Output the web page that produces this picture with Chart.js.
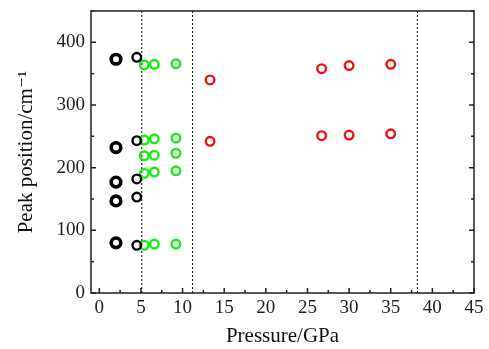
<!DOCTYPE html>
<html>
<head>
<meta charset="utf-8">
<script src="https://cdn.jsdelivr.net/npm/chart.js@4/dist/chart.umd.min.js"></script>
<style>
  html, body { margin: 0; padding: 0; background: #fff; }
  #wrap { width: 489px; height: 349px; }
</style>
</head>
<body>
<div id="wrap"><canvas id="peakChart"></canvas></div>
<script>
// pressure (GPa) and peak positions (cm^-1)
const blackBoldP = [2.0, 2.0, 2.0, 2.0, 2.0];
const blackBoldPos = [373, 232, 177, 147, 80];
const blackP = [4.5, 4.5, 4.5, 4.5, 4.5];
const blackPos = [376, 243, 182, 153, 76];
const greenP = [5.4, 5.4, 5.4, 5.4, 5.4, 6.6, 6.6, 6.6, 6.6, 6.6, 9.2, 9.2, 9.2, 9.2, 9.2];
const greenPos = [364, 244, 219, 191, 76, 365, 246, 220, 193, 78, 366, 247, 223, 195, 78];
const redP = [13.3, 13.3, 26.7, 26.7, 30.0, 30.0, 35.0, 35.0];
const redPos = [340, 242, 358, 251, 363, 252, 365, 254];
// phase boundaries (dotted verticals)
const boundaries = [5.1, 11.2, 38.2];

const xTicks = [0, 5, 10, 15, 20, 25, 30, 35, 40, 45];
const yTicks = [0, 100, 200, 300, 400];

function pts(xs, ys) {
  return xs.map((x, i) => ({x: x, y: ys[i]}));
}

const serif = '"Liberation Serif", "DejaVu Serif", serif';

const datasets = [
  {data: pts(blackBoldP, blackBoldPos), borderColor: '#000', borderWidth: 3.6, pointRadius: 4.8},
  {data: pts(blackP, blackPos), borderColor: '#000', borderWidth: 2.4, pointRadius: 4.3},
  {data: pts(greenP, greenPos), borderColor: '#11ee11', borderWidth: 2.4, pointRadius: 4.3},
  {data: pts(redP, redPos), borderColor: '#ee1111', borderWidth: 2.4, pointRadius: 4.3}
].map(d => Object.assign(d, {type: 'scatter', backgroundColor: 'rgba(0,0,0,0)', pointHoverRadius: d.pointRadius}));

boundaries.forEach(b => {
  datasets.push({
    type: 'line',
    data: [{x: b, y: 0}, {x: b, y: 450}],
    borderColor: '#000',
    borderWidth: 1,
    borderDash: [2, 2],
    pointRadius: 0,
    fill: false
  });
});

// frame plus inward tick marks
const framePlugin = {
  id: 'frame',
  afterDraw(chart) {
    const {ctx, chartArea: a, scales: {x, y}} = chart;
    ctx.save();
    ctx.strokeStyle = '#222';
    ctx.lineWidth = 1.5;
    ctx.strokeRect(a.left, a.top, a.right - a.left, a.bottom - a.top);
    ctx.beginPath();
    for (let v = 0; v <= 450; v += 50) {
      const py = y.getPixelForValue(v);
      const len = v % 100 === 0 ? 5 : 3;
      ctx.moveTo(a.left, py); ctx.lineTo(a.left + len, py);
      ctx.moveTo(a.right, py); ctx.lineTo(a.right - len, py);
    }
    for (let v = 0; v <= 45; v += 2.5) {
      const px = x.getPixelForValue(v);
      const len = v % 5 === 0 ? 5 : 3;
      ctx.moveTo(px, a.bottom); ctx.lineTo(px, a.bottom - len);
    }
    ctx.stroke();
    ctx.restore();
  }
};

new Chart(document.getElementById('peakChart'), {
  type: 'scatter',
  data: {datasets: datasets},
  plugins: [framePlugin],
  options: {
    responsive: true,
    maintainAspectRatio: false,
    animation: false,
    layout: {padding: {top: 11, right: 15, left: 0, bottom: 0}},
    plugins: {legend: {display: false}, tooltip: {enabled: false}},
    scales: {
      x: {
        type: 'linear',
        min: -1,
        max: 45,
        grid: {display: false, drawTicks: false},
        border: {display: false},
        afterFit: s => { s.height = 56; s.paddingLeft = 0; s.paddingRight = 0; },
        afterBuildTicks: s => { s.ticks = xTicks.map(v => ({value: v})); },
        ticks: {font: {family: serif, size: 19}, color: '#222', padding: 4, maxRotation: 0},
        title: {display: true, text: 'Pressure/GPa', font: {family: serif, size: 21}, color: '#111', padding: {top: 3, bottom: 0}}
      },
      y: {
        min: 0,
        max: 450,
        grid: {display: false, drawTicks: false},
        border: {display: false},
        afterFit: s => { s.width = 91; s.paddingTop = 0; s.paddingBottom = 0; },
        afterBuildTicks: s => { s.ticks = yTicks.map(v => ({value: v})); },
        ticks: {font: {family: serif, size: 19}, color: '#222', padding: 6},
        title: {display: true, text: 'Peak position/cm\u207B\u00B9', font: {family: serif, size: 21}, color: '#111', padding: {top: 14, bottom: 0}}
      }
    }
  }
});
</script>
</body>
</html>
